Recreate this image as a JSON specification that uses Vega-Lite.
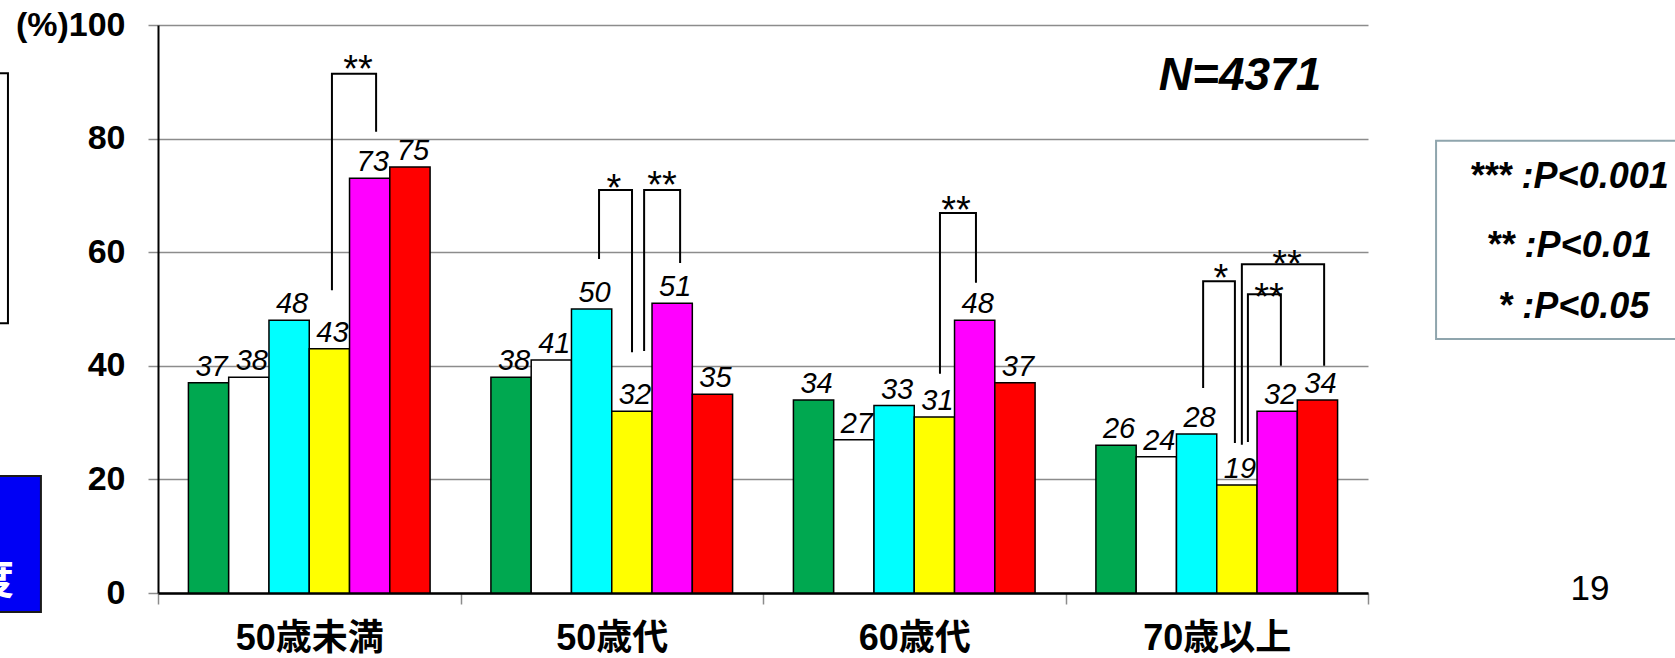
{
  "$schema": "https://vega.github.io/schema/vega-lite/v6.json",
  "width": 1210,
  "height": 568,
  "autosize": {"type": "none"},
  "padding": {"left": 158, "top": 25, "right": 307, "bottom": 65},
  "background": "white",
  "config": {"view": {"stroke": null}, "font": "Liberation Sans"},
  "datasets": {
    "bars": [
      {"age": "50歳未満", "item": "項目1", "value": 37},
      {"age": "50歳未満", "item": "項目2", "value": 38},
      {"age": "50歳未満", "item": "項目3", "value": 48},
      {"age": "50歳未満", "item": "項目4", "value": 43},
      {"age": "50歳未満", "item": "項目5", "value": 73},
      {"age": "50歳未満", "item": "項目6", "value": 75},
      {"age": "50歳代", "item": "項目1", "value": 38},
      {"age": "50歳代", "item": "項目2", "value": 41},
      {"age": "50歳代", "item": "項目3", "value": 50},
      {"age": "50歳代", "item": "項目4", "value": 32},
      {"age": "50歳代", "item": "項目5", "value": 51},
      {"age": "50歳代", "item": "項目6", "value": 35},
      {"age": "60歳代", "item": "項目1", "value": 34},
      {"age": "60歳代", "item": "項目2", "value": 27},
      {"age": "60歳代", "item": "項目3", "value": 33},
      {"age": "60歳代", "item": "項目4", "value": 31},
      {"age": "60歳代", "item": "項目5", "value": 48},
      {"age": "60歳代", "item": "項目6", "value": 37},
      {"age": "70歳以上", "item": "項目1", "value": 26},
      {"age": "70歳以上", "item": "項目2", "value": 24},
      {"age": "70歳以上", "item": "項目3", "value": 28},
      {"age": "70歳以上", "item": "項目4", "value": 19},
      {"age": "70歳以上", "item": "項目5", "value": 32},
      {"age": "70歳以上", "item": "項目6", "value": 34}
    ],
    "brackets": [
      {"id": "b1", "seq": 1, "gx": 0.575, "value": 53.3},
      {"id": "b1", "seq": 2, "gx": 0.575, "value": 91.4},
      {"id": "b1", "seq": 3, "gx": 0.721, "value": 91.4},
      {"id": "b1", "seq": 4, "gx": 0.721, "value": 81.2},
      {"id": "b2", "seq": 1, "gx": 1.458, "value": 58.8},
      {"id": "b2", "seq": 2, "gx": 1.458, "value": 70.95},
      {"id": "b2", "seq": 3, "gx": 1.567, "value": 70.95},
      {"id": "b2", "seq": 4, "gx": 1.567, "value": 42.4},
      {"id": "b3", "seq": 1, "gx": 1.607, "value": 42.6},
      {"id": "b3", "seq": 2, "gx": 1.607, "value": 70.95},
      {"id": "b3", "seq": 3, "gx": 1.726, "value": 70.95},
      {"id": "b3", "seq": 4, "gx": 1.726, "value": 58.1},
      {"id": "b4", "seq": 1, "gx": 2.585, "value": 38.6},
      {"id": "b4", "seq": 2, "gx": 2.585, "value": 66.9},
      {"id": "b4", "seq": 3, "gx": 2.704, "value": 66.9},
      {"id": "b4", "seq": 4, "gx": 2.704, "value": 54.6},
      {"id": "b5", "seq": 1, "gx": 3.455, "value": 36.1},
      {"id": "b5", "seq": 2, "gx": 3.455, "value": 54.9},
      {"id": "b5", "seq": 3, "gx": 3.56, "value": 54.9},
      {"id": "b5", "seq": 4, "gx": 3.56, "value": 26.4},
      {"id": "b6", "seq": 1, "gx": 3.603, "value": 26.6},
      {"id": "b6", "seq": 2, "gx": 3.603, "value": 52.6},
      {"id": "b6", "seq": 3, "gx": 3.712, "value": 52.6},
      {"id": "b6", "seq": 4, "gx": 3.712, "value": 40.0},
      {"id": "b7", "seq": 1, "gx": 3.583, "value": 26.1},
      {"id": "b7", "seq": 2, "gx": 3.583, "value": 57.9},
      {"id": "b7", "seq": 3, "gx": 3.855, "value": 57.9},
      {"id": "b7", "seq": 4, "gx": 3.855, "value": 40.0}
    ],
    "stars": [
      {"gx": 0.661, "value": 90.0, "label": "**"},
      {"gx": 1.507, "value": 69.0, "label": "*"},
      {"gx": 1.666, "value": 69.5, "label": "**"},
      {"gx": 2.638, "value": 65.1, "label": "**"},
      {"gx": 3.514, "value": 53.2, "label": "*"},
      {"gx": 3.673, "value": 49.8, "label": "**"},
      {"gx": 3.732, "value": 55.6, "label": "**"}
    ],
    "keyBox": [
      {"gx": 4.225, "gx2": 5.2, "value": 79.6, "value2": 44.7}
    ],
    "keyText": [
      {"gx": 4.665, "value": 71.3, "label": "*** :P<0.001"},
      {"gx": 4.665, "value": 59.2, "label": "** :P<0.01"},
      {"gx": 4.68, "value": 48.4, "label": "* :P<0.05"}
    ],
    "total": [
      {"gx": 3.577, "value": 88.6, "label": "N=4371"}
    ],
    "page": [
      {"gx": 4.734, "value": -1.23, "label": "19"}
    ],
    "sideFrame": [
      {"gx": -0.8, "gx2": -0.496, "value": 91.5, "value2": 47.5}
    ],
    "sideTag": [
      {"gx": -0.8, "gx2": -0.387, "value": 20.6, "value2": -3.35}
    ],
    "sideTagText": [
      {"gx": -0.476, "value": -0.2, "label": "度"}
    ]
  },
  "encoding": {
    "y": {
      "field": "value",
      "type": "quantitative",
      "scale": {"domain": [0, 100], "nice": false, "zero": false},
      "axis": {
        "title": null,
        "values": [0, 20, 40, 60, 80, 100],
        "labelExpr": "datum.value == 100 ? '(%)100' : datum.label",
        "labelFont": "Liberation Sans",
        "labelFontSize": 34,
        "labelFontWeight": "bold",
        "labelColor": "black",
        "labelPadding": 23,
        "tickSize": 10,
        "tickColor": "#8c8c8c",
        "tickWidth": 1.5,
        "grid": true,
        "gridColor": "#8c8c8c",
        "gridWidth": 1.5,
        "domainColor": "black",
        "domainWidth": 2
      }
    }
  },
  "layer": [
    {
      "data": {"name": "bars"},
      "encoding": {
        "x": {
          "field": "age",
          "type": "nominal",
          "sort": null,
          "scale": {"paddingInner": 0, "paddingOuter": 0},
          "axis": {
            "title": null,
            "labelAngle": 0,
            "labelFont": "Liberation Sans, Noto Sans CJK JP",
            "labelFontSize": 36,
            "labelFontWeight": "bold",
            "labelColor": "black",
            "labelPadding": 17,
            "tickBand": "extent",
            "tickSize": 11,
            "tickColor": "#8c8c8c",
            "tickWidth": 1.5,
            "domainColor": "black",
            "domainWidth": 2.5
          }
        },
        "xOffset": {
          "field": "item",
          "type": "nominal",
          "sort": null,
          "scale": {"paddingInner": 0, "paddingOuter": 0.755}
        }
      },
      "layer": [
        {
          "mark": {"type": "bar", "stroke": "black", "strokeWidth": 1.5},
          "encoding": {
            "color": {
              "field": "item",
              "type": "nominal",
              "sort": null,
              "scale": {
                "domain": ["項目1", "項目2", "項目3", "項目4", "項目5", "項目6"],
                "range": ["#00A850", "#FFFFFF", "#00FFFF", "#FFFF00", "#FF00FF", "#FF0000"]
              },
              "legend": null
            }
          }
        },
        {
          "mark": {
            "type": "text",
            "font": "Liberation Sans",
            "fontSize": 29,
            "fontStyle": "italic",
            "color": "black",
            "baseline": "alphabetic",
            "dx": 3,
            "dy": -7
          },
          "encoding": {"text": {"field": "value", "type": "quantitative"}}
        }
      ]
    },
    {
      "encoding": {
        "x": {
          "field": "gx",
          "type": "quantitative",
          "scale": {"domain": [0, 4], "nice": false, "zero": false},
          "axis": null
        }
      },
      "layer": [
        {
          "data": {"name": "brackets"},
          "mark": {"type": "line", "color": "black", "strokeWidth": 2, "strokeCap": "butt"},
          "encoding": {
            "detail": {"field": "id", "type": "nominal"},
            "order": {"field": "seq", "type": "quantitative"}
          }
        },
        {
          "data": {"name": "stars"},
          "mark": {"type": "text", "font": "Liberation Sans", "fontSize": 38, "color": "black", "baseline": "alphabetic", "align": "center"},
          "encoding": {"text": {"field": "label"}}
        },
        {
          "data": {"name": "keyBox"},
          "mark": {"type": "rect", "fill": "white", "stroke": "#8FA5AD", "strokeWidth": 2},
          "encoding": {
            "x2": {"field": "gx2"},
            "y2": {"field": "value2"}
          }
        },
        {
          "data": {"name": "keyText"},
          "mark": {"type": "text", "font": "Liberation Sans", "fontSize": 36, "fontWeight": "bold", "fontStyle": "italic", "color": "black", "baseline": "alphabetic", "align": "center"},
          "encoding": {"text": {"field": "label"}}
        },
        {
          "data": {"name": "total"},
          "mark": {"type": "text", "font": "Liberation Sans", "fontSize": 46, "fontWeight": "bold", "fontStyle": "italic", "color": "black", "baseline": "alphabetic", "align": "center"},
          "encoding": {"text": {"field": "label"}}
        },
        {
          "data": {"name": "page"},
          "mark": {"type": "text", "font": "Liberation Sans", "fontSize": 35, "color": "black", "baseline": "alphabetic", "align": "center"},
          "encoding": {"text": {"field": "label"}}
        },
        {
          "data": {"name": "sideFrame"},
          "mark": {"type": "rect", "fill": null, "fillOpacity": 0, "stroke": "black", "strokeWidth": 2},
          "encoding": {
            "x2": {"field": "gx2"},
            "y2": {"field": "value2"}
          }
        },
        {
          "data": {"name": "sideTag"},
          "mark": {"type": "rect", "fill": "#0000F5", "stroke": "#1a1a1a", "strokeWidth": 2},
          "encoding": {
            "x2": {"field": "gx2"},
            "y2": {"field": "value2"}
          }
        },
        {
          "data": {"name": "sideTagText"},
          "mark": {"type": "text", "font": "Noto Sans CJK JP", "fontSize": 42, "fontWeight": "bold", "color": "white", "baseline": "alphabetic", "align": "right"},
          "encoding": {"text": {"field": "label"}}
        }
      ]
    }
  ],
  "resolve": {"scale": {"x": "independent"}, "axis": {"x": "independent"}}
}
